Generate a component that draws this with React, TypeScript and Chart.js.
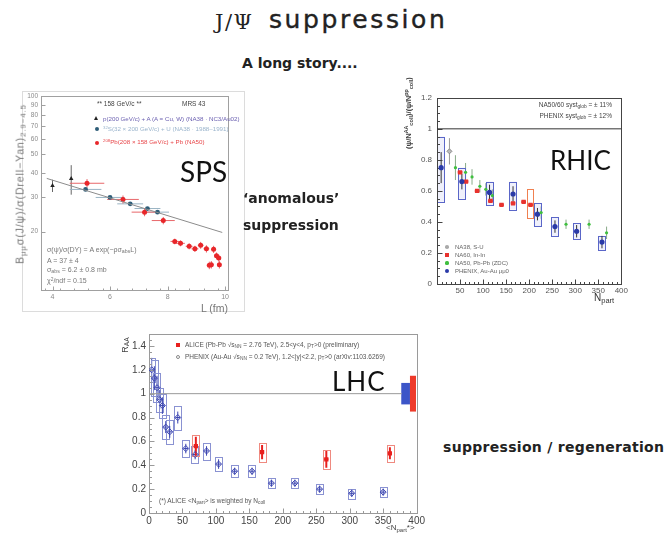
import React, { useEffect, useRef } from "react";
import { Chart, registerables } from "chart.js";

type Pt = { x: number; y: number };
const pts = (xs: number[], ys: number[]): Pt[] => xs.map((x, i) => ({ x, y: ys[i] }));
const range = (a: number, b: number, s: number): number[] => {
  const r: number[] = [];
  for (let i = 0; a + i * s <= b + 1e-9; i++) r.push(+(a + i * s).toFixed(6));
  return r;
};

/* ---------- SPS: J/psi over Drell-Yan vs. nuclear path length L (fm) ---------- */
const spsPA_L = [4.0, 4.65];
const spsPA_R = [34.5, 37.5];
const spsPA_eR = [2.5, 6.5];
const spsSU_L = [5.15, 6.0, 6.7, 7.3, 7.65];
const spsSU_R = [33.0, 30.0, 27.8, 26.3, 25.2];
const spsSU_eL = [0.55, 0.5, 0.45, 0.45, 0.4];
const spsPb_L = [5.2, 6.45, 7.2, 7.85, 8.25, 8.45, 8.75, 8.95, 9.15, 9.35, 9.6, 9.45, 9.52, 9.7, 9.78, 9.8];
const spsPb_R = [35.5, 29.3, 25.2, 22.8, 17.8, 17.4, 16.8, 16.3, 17.0, 16.3, 16.2, 13.4, 13.5, 15.0, 14.6, 13.5];
const spsPb_eL = [0.6, 0.55, 0.45, 0.4, 0.15, 0.15, 0.12, 0.12, 0.1, 0.1, 0.08, 0.08, 0.08, 0.06, 0.06, 0.05];
const spsPb_eR = [1.8, 1.4, 1.2, 1.0, 0.6, 0.6, 0.6, 0.6, 0.7, 0.7, 0.7, 0.6, 0.6, 0.6, 0.6, 0.6];
const spsFit_L = [3.8, 9.9];
const spsFit_R = [37.6, 19.8];
const spsTicksX = [4, 6, 8, 10];
const spsTicksY = [10, 20, 30, 40, 50, 60, 70, 80, 90, 100];

/* ---------- RHIC / SPS: J/psi yield ratio vs. N_part ---------- */
const rhicRef_N = [0, 400];
const rhicRef_R = [1, 1];
const na38_N = [27];
const na38_R = [0.855];
const na38_e = [0.085];
const na50_N = [40, 62, 76, 93, 106, 120, 226, 280, 330, 368];
const na50_R = [0.75, 0.72, 0.69, 0.63, 0.61, 0.57, 0.46, 0.385, 0.385, 0.33];
const na50_e = [0.08, 0.06, 0.05, 0.04, 0.04, 0.04, 0.04, 0.03, 0.03, 0.04];
const na60_N = [50, 63, 87, 116, 140, 165, 188, 203];
const na60_R = [0.72, 0.66, 0.6, 0.535, 0.51, 0.52, 0.53, 0.51];
const na60_eN = [5, 5, 5, 5, 5, 5, 5, 5];
const na60_boxLo = [null, null, null, null, null, null, null, 0.42];
const na60_boxHi = [null, null, null, null, null, null, null, 0.61];
const phxAu_N = [9, 54, 114, 165, 218, 256, 303, 358];
const phxAu_R = [0.75, 0.66, 0.59, 0.58, 0.45, 0.37, 0.34, 0.27];
const phxAu_e = [0.1, 0.05, 0.05, 0.05, 0.04, 0.04, 0.04, 0.04];
const phxAu_lo = [0.53, 0.55, 0.51, 0.48, 0.37, 0.31, 0.29, 0.22];
const phxAu_hi = [0.95, 0.75, 0.66, 0.66, 0.52, 0.43, 0.39, 0.31];

/* ---------- LHC: R_AA vs. <N_part> ---------- */
const lhcRef_N = [0, 378];
const lhcRef_R = [1, 1];
const phx_N = [4, 8, 12, 16, 20, 25, 31, 43, 55, 69, 86, 104, 128, 154, 183, 218, 255, 303, 350];
const phx_R = [1.2, 1.13, 1.05, 0.95, 0.9, 0.72, 0.68, 0.8, 0.54, 0.49, 0.52, 0.41, 0.35, 0.35, 0.25, 0.25, 0.2, 0.165, 0.175];
const phx_stat = [0.1, 0.1, 0.1, 0.08, 0.07, 0.05, 0.05, 0.05, 0.04, 0.04, 0.04, 0.04, 0.03, 0.03, 0.03, 0.03, 0.03, 0.03, 0.03];
const phx_sys = [0.1, 0.15, 0.12, 0.1, 0.1, 0.1, 0.1, 0.1, 0.07, 0.07, 0.07, 0.06, 0.05, 0.05, 0.04, 0.04, 0.04, 0.04, 0.04];
const alice_N = [70, 169, 265, 360];
const alice_R = [0.56, 0.51, 0.45, 0.5];
const alice_stat = [0.08, 0.06, 0.07, 0.05];
const alice_sys = [0.09, 0.08, 0.08, 0.07];
const phxGlob_N = [383.5];
const phxGlob_R = [1];
const phxGlob_sys = [0.09];
const aliceGlob_N = [394.5];
const aliceGlob_R = [1];
const aliceGlob_sys = [0.15];

const F = "'Liberation Sans', Arial, sans-serif";

/* error bars and systematic boxes, drawn beneath the markers */
const errorBars = {
  id: "errorBars",
  beforeDatasetsDraw(chart: any) {
    const { ctx, chartArea: a } = chart;
    const xs = chart.scales.x;
    const ys = chart.scales.y;
    ctx.save();
    ctx.beginPath();
    ctx.rect(a.left, a.top, a.width, a.height);
    ctx.clip();
    chart.data.datasets.forEach((ds: any) => {
      (ds.data as Pt[]).forEach((p, i) => {
        const px = xs.getPixelForValue(p.x);
        const py = ys.getPixelForValue(p.y);
        let lo: number | null = null;
        let hi: number | null = null;
        if (ds.sysY) {
          lo = p.y - ds.sysY[i];
          hi = p.y + ds.sysY[i];
        }
        if (ds.boxLo && ds.boxLo[i] != null) {
          lo = ds.boxLo[i];
          hi = ds.boxHi[i];
        }
        if (lo != null && hi != null) {
          const x0 = xs.getPixelForValue(p.x - ds.boxW);
          const x1 = xs.getPixelForValue(p.x + ds.boxW);
          const y0 = ys.getPixelForValue(hi);
          const y1 = ys.getPixelForValue(lo);
          if (ds.boxFill) {
            ctx.fillStyle = ds.boxFill;
            ctx.fillRect(x0, y0, x1 - x0, y1 - y0);
          }
          if (ds.boxStroke) {
            ctx.strokeStyle = ds.boxStroke;
            ctx.lineWidth = 1;
            ctx.strokeRect(Math.round(x0) + 0.5, Math.round(y0) + 0.5, Math.round(x1 - x0), Math.round(y1 - y0));
          }
        }
        if (ds.errY || ds.errX) {
          ctx.strokeStyle = ds.barColor;
          ctx.lineWidth = ds.barWidth || 1;
          ctx.beginPath();
          if (ds.errY) {
            ctx.moveTo(px, ys.getPixelForValue(p.y - ds.errY[i]));
            ctx.lineTo(px, ys.getPixelForValue(p.y + ds.errY[i]));
          }
          if (ds.errX) {
            ctx.moveTo(xs.getPixelForValue(p.x - ds.errX[i]), py);
            ctx.lineTo(xs.getPixelForValue(p.x + ds.errX[i]), py);
          }
          ctx.stroke();
        }
      });
    });
    ctx.restore();
  },
};

/* ROOT-style frame with inward tick marks */
const frame = {
  id: "frame",
  beforeDatasetsDraw(chart: any, _args: any, o: any) {
    if (!o || !o.color) return;
    const { ctx, chartArea: a } = chart;
    const xs = chart.scales.x;
    const ys = chart.scales.y;
    ctx.save();
    ctx.strokeStyle = o.color;
    ctx.lineWidth = 1;
    const L = Math.round(a.left) + 0.5;
    const R = Math.round(a.right) + 0.5;
    const T = Math.round(a.top) + 0.5;
    const B = Math.round(a.bottom) + 0.5;
    ctx.strokeRect(L, T, R - L, B - T);
    ctx.beginPath();
    const xt = (vals: number[], len: number) =>
      (vals || []).forEach((v) => {
        const px = Math.round(xs.getPixelForValue(v)) + 0.5;
        if (px < L - 0.1 || px > R + 0.1) return;
        ctx.moveTo(px, B);
        ctx.lineTo(px, B - len);
      });
    const yt = (vals: number[], len: number) =>
      (vals || []).forEach((v) => {
        const py = Math.round(ys.getPixelForValue(v)) + 0.5;
        if (py < T - 0.1 || py > B + 0.1) return;
        ctx.moveTo(L, py);
        ctx.lineTo(L + len, py);
      });
    xt(o.xMajor, o.len);
    xt(o.xMinor, o.minorLen);
    yt(o.yMajor, o.len);
    yt(o.yMinor, o.minorLen);
    ctx.stroke();
    ctx.restore();
  },
};

Chart.register(...registerables, errorBars, frame);

const noGrid = { display: false, drawTicks: false, tickLength: 0 };

const baseOptions = (padding: any) => ({
  animation: false,
  responsive: false,
  events: [],
  layout: { padding },
});

function spsConfig(): any {
  return {
    type: "scatter",
    data: {
      datasets: [
        { data: pts(spsFit_L, spsFit_R), showLine: true, borderColor: "#8c8c8c", borderWidth: 1, pointRadius: 0 },
        { data: pts(spsPA_L, spsPA_R), pointStyle: "triangle", pointRadius: 2.6, backgroundColor: "#222", borderColor: "#222", borderWidth: 0, errY: spsPA_eR, barColor: "#666" },
        { data: pts(spsSU_L, spsSU_R), pointStyle: "circle", pointRadius: 2.4, backgroundColor: "#2e5d78", borderWidth: 0, errX: spsSU_eL, barColor: "#9ab4c4" },
        { data: pts(spsPb_L, spsPb_R), pointStyle: "circle", pointRadius: 2.5, backgroundColor: "#e8262a", borderWidth: 0, errX: spsPb_eL, errY: spsPb_eR, barColor: "#e8676a" },
      ],
    },
    options: {
      ...baseOptions({ top: 8, right: 18, left: 0, bottom: 0 }),
      plugins: {
        legend: { display: false },
        tooltip: { enabled: false },
        frame: { color: "#a0a0a0", xMajor: spsTicksX, xMinor: range(3.75, 10, 0.5), yMajor: spsTicksY, yMinor: [], len: 4, minorLen: 2 },
      },
      scales: {
        x: {
          type: "linear", min: 3.6, max: 10.1,
          grid: noGrid, border: { display: false },
          afterBuildTicks: (s: any) => { s.ticks = spsTicksX.map((v) => ({ value: v })); },
          afterFit: (s: any) => { s.height = 24; },
          ticks: { autoSkip: false, maxRotation: 0, padding: 3, color: "#8a8a8a", font: { size: 7, family: F } },
        },
        y: {
          type: "logarithmic", min: 10, max: 100,
          grid: noGrid, border: { display: false },
          afterBuildTicks: (s: any) => { s.ticks = spsTicksY.map((v) => ({ value: v })); },
          afterFit: (s: any) => { s.width = 21; },
          ticks: { autoSkip: false, padding: 3, color: "#8a8a8a", font: { size: 6.5, family: F }, callback: (v: number) => (v === 10 ? "" : String(v)) },
        },
      },
    },
  };
}

function rhicConfig(): any {
  return {
    type: "scatter",
    data: {
      datasets: [
        { data: pts(rhicRef_N, rhicRef_R), showLine: true, borderColor: "#333", borderWidth: 1, pointRadius: 0 },
        { data: pts(na38_N, na38_R), pointStyle: "rectRot", pointRadius: 2.5, backgroundColor: "#bbb", borderColor: "#888", borderWidth: 1, errY: na38_e, barColor: "#999" },
        { data: pts(na50_N, na50_R), pointStyle: "circle", pointRadius: 1.6, backgroundColor: "#3fbf3f", borderWidth: 0, errY: na50_e, barColor: "#8a8", barWidth: 1 },
        { data: pts(phxAu_N, phxAu_R), pointStyle: "circle", pointRadius: 2.6, backgroundColor: "#2a3aa8", borderWidth: 0, errY: phxAu_e, barColor: "#333", boxLo: phxAu_lo, boxHi: phxAu_hi, boxW: 8, boxStroke: "#5a66c8", boxFill: "rgba(120,130,220,0.12)" },
        { data: pts(na60_N, na60_R), pointStyle: "rect", pointRadius: 3, backgroundColor: "#e8322e", borderWidth: 0, errX: na60_eN, barColor: "#e8322e", barWidth: 2.5, boxLo: na60_boxLo, boxHi: na60_boxHi, boxW: 7, boxStroke: "#f08050" },
      ],
    },
    options: {
      ...baseOptions({ top: 9, right: 8, left: 0, bottom: 0 }),
      plugins: {
        legend: { display: false },
        tooltip: { enabled: false },
        frame: { color: "#444", xMajor: range(0, 400, 50), xMinor: range(0, 400, 10), yMajor: range(0, 1.2, 0.2), yMinor: range(0, 1.2, 0.05), len: 5, minorLen: 2.5 },
      },
      scales: {
        x: {
          type: "linear", min: 0, max: 400,
          grid: noGrid, border: { display: false },
          afterBuildTicks: (s: any) => { s.ticks = range(0, 400, 50).map((v) => ({ value: v })); },
          afterFit: (s: any) => { s.height = 29; },
          ticks: { autoSkip: false, maxRotation: 0, padding: 2, color: "#555", font: { size: 8, family: F }, callback: (v: number) => (v === 0 ? "" : String(v)) },
        },
        y: {
          type: "linear", min: 0, max: 1.2,
          grid: noGrid, border: { display: false },
          afterBuildTicks: (s: any) => { s.ticks = range(0, 1.2, 0.2).map((v) => ({ value: v })); },
          afterFit: (s: any) => { s.width = 39; },
          ticks: { autoSkip: false, padding: 5, color: "#555", font: { size: 8, family: F }, callback: (v: number) => String(Math.round(v * 10) / 10) },
        },
      },
    },
  };
}

function lhcConfig(): any {
  return {
    type: "scatter",
    data: {
      datasets: [
        { data: pts(lhcRef_N, lhcRef_R), showLine: true, borderColor: "#9a9a9a", borderWidth: 1, pointRadius: 0 },
        { data: pts(phxGlob_N, phxGlob_R), pointRadius: 0, sysY: phxGlob_sys, boxW: 6.5, boxFill: "#3c55c8" },
        { data: pts(aliceGlob_N, aliceGlob_R), pointRadius: 0, sysY: aliceGlob_sys, boxW: 4.5, boxFill: "#ee3a2a" },
        { data: pts(phx_N, phx_R), pointStyle: "rectRot", pointRadius: 3, backgroundColor: "rgba(255,255,255,0)", borderColor: "#3a44b0", borderWidth: 1, errY: phx_stat, errX: phx_N.map(() => 3.5), barColor: "#3a44b0", sysY: phx_sys, boxW: 5.5, boxStroke: "#8a92d2" },
        { data: pts(alice_N, alice_R), pointStyle: "rect", pointRadius: 3, backgroundColor: "#e8201e", borderWidth: 0, errY: alice_stat, errX: alice_N.map(() => 3), barColor: "#e8201e", barWidth: 2, sysY: alice_sys, boxW: 5, boxStroke: "#ef8a80" },
      ],
    },
    options: {
      ...baseOptions({ top: 12, right: 9, left: 0, bottom: 0 }),
      plugins: {
        legend: { display: false },
        tooltip: { enabled: false },
        frame: { color: "#9a9a9a", xMajor: range(0, 400, 50), xMinor: range(0, 400, 10), yMajor: range(0, 1.4, 0.2), yMinor: range(0, 1.5, 0.05), len: 5, minorLen: 2.5 },
      },
      scales: {
        x: {
          type: "linear", min: 0, max: 400,
          grid: noGrid, border: { display: false },
          afterBuildTicks: (s: any) => { s.ticks = range(0, 400, 50).map((v) => ({ value: v })); },
          afterFit: (s: any) => { s.height = 20; },
          ticks: { autoSkip: false, maxRotation: 0, padding: 2, color: "#444", font: { size: 10, family: F } },
        },
        y: {
          type: "linear", min: 0, max: 1.5,
          grid: noGrid, border: { display: false },
          afterBuildTicks: (s: any) => { s.ticks = range(0, 1.4, 0.2).map((v) => ({ value: v })); },
          afterFit: (s: any) => { s.width = 37; },
          ticks: { autoSkip: false, padding: 3, color: "#444", font: { size: 10, family: F }, callback: (v: number) => String(Math.round(v * 10) / 10) },
        },
      },
    },
  };
}

function Plot({ make, left, top, width, height }: { make: () => any; left: number; top: number; width: number; height: number }) {
  const ref = useRef<HTMLCanvasElement>(null);
  useEffect(() => {
    const c = new Chart(ref.current as HTMLCanvasElement, make());
    return () => c.destroy();
  }, []);
  return <canvas ref={ref} width={width} height={height} style={{ position: "absolute", left, top, width, height }} />;
}

const T = ({ x, y, size, color = "#333", family = F, weight = 400, children, style }: any) => (
  <div style={{ position: "absolute", left: x, top: y, fontSize: size, lineHeight: 1, color, fontFamily: family, fontWeight: weight, whiteSpace: "nowrap", ...style }}>
    {children}
  </div>
);

const V = ({ cx, cy, size, color = "#555", weight = 400, children, style }: any) => (
  <div style={{ position: "absolute", left: cx, top: cy, transform: "translate(-50%,-50%) rotate(-90deg)", fontSize: size, lineHeight: 1, color, fontFamily: F, fontWeight: weight, whiteSpace: "nowrap", ...style }}>
    {children}
  </div>
);

const Dot = ({ cx, cy, r, color, square = false, hollow = false }: any) => (
  <div style={{ position: "absolute", left: cx - r, top: cy - r, width: 2 * r, height: 2 * r, borderRadius: square ? 0 : "50%", background: hollow ? "transparent" : color, border: hollow ? `1px solid ${color}` : "none", boxSizing: "border-box" }} />
);

const SANS = "'DejaVu Sans', sans-serif";
const sub = { fontSize: "75%", verticalAlign: "-0.25em" };
const sup = { fontSize: "70%", verticalAlign: "0.45em" };

export default function App() {
  return (
    <div style={{ position: "absolute", left: 0, top: 0, width: 668, height: 533, overflow: "hidden", background: "#fff" }}>
      {/* heading */}
      <T x={215} y={12} size={21} family="'DejaVu Serif', serif" color="#222" style={{ letterSpacing: 1.5 }}>J/Ψ</T>
      <T x={269} y={7} size={25} family={SANS} color="#222" style={{ letterSpacing: 2.6, WebkitTextStroke: "0.4px #222" }}>suppression</T>
      <T x={242} y={56} size={14} family={SANS} weight={700} color="#222">A long story....</T>

      {/* SPS panel */}
      <div style={{ position: "absolute", left: 22, top: 91, width: 223, height: 221, border: "1px solid #dcdcdc", boxSizing: "border-box" }} />
      <Plot make={spsConfig} left={20} top={88} width={226} height={226} />
      <T x={97} y={101} size={6.5} color="#444">** 158 GeV/c **</T>
      <T x={182} y={101} size={6.5} color="#444">MRS 43</T>
      <div style={{ position: "absolute", left: 93.5, top: 115.5, width: 0, height: 0, borderLeft: "2.5px solid transparent", borderRight: "2.5px solid transparent", borderBottom: "4px solid #222" }} />
      <T x={103} y={116} size={6.2} color="#6a5fb0">p(200 GeV/c) + A (A = Cu, W) (NA38 · NC3/Au02)</T>
      <Dot cx={97} cy={129} r={2.2} color="#2e5d78" />
      <T x={103} y={125.5} size={6.2} color="#9ab4cc"><span style={sup}>32</span>S(32 × 200 GeV/c) + U (NA38 · 1988–1991)</T>
      <Dot cx={97} cy={143} r={2.3} color="#e8262a" />
      <T x={103} y={139} size={6.2} color="#e8474a"><span style={sup}>208</span>Pb(208 × 158 GeV/c) + Pb (NA50)</T>
      <T x={47} y={246} size={7} color="#777">σ(ψ)/σ(DY) = A exp(−ρσ<span style={sub}>abs</span>L)</T>
      <T x={47} y={256.5} size={7} color="#777">A = 37 ± 4</T>
      <T x={47} y={266} size={7} color="#777">σ<span style={sub}>abs</span> = 6.2 ± 0.8 mb</T>
      <T x={47} y={276.5} size={7} color="#777">χ<span style={sup}>2</span>/ndf = 0.15</T>
      <V cx={21} cy={184} size={10.5} color="#777" style={{ letterSpacing: 0.9 }}>B<span style={sub}>μμ</span>σ(J/ψ)/σ(Drell−Yan)<span style={sub}>2.9−4.5</span></V>
      <T x={201} y={303} size={10.5} color="#777">L (fm)</T>
      <T x={180} y={157} size={28} family="Lato, sans-serif" color="#111">SPS</T>

      <T x={243} y={191} size={14} family={SANS} weight={700} color="#222">‘anomalous’</T>
      <T x={243} y={218} size={14} family={SANS} weight={700} color="#222">suppression</T>

      {/* RHIC panel */}
      <Plot make={rhicConfig} left={398} top={88} width={232} height={225} />
      <V cx={409} cy={113} size={7.5} weight={700} color="#444">(ψ/N<sup style={{ fontSize: "70%" }}>AA</sup><span style={sub}>coll</span>)/(ψ/N<sup style={{ fontSize: "70%" }}>pp</sup><span style={sub}>coll</span>)</V>
      <div style={{ position: "absolute", right: 56, top: 101.5, fontSize: 6.5, lineHeight: 1, color: "#444", fontFamily: F, whiteSpace: "nowrap" }}>NA50/60 syst<span style={sub}>glob</span> = ± 11%</div>
      <div style={{ position: "absolute", right: 56, top: 113, fontSize: 6.5, lineHeight: 1, color: "#444", fontFamily: F, whiteSpace: "nowrap" }}>PHENIX syst<span style={sub}>glob</span> = ± 12%</div>
      <Dot cx={447} cy={247} r={1.8} color="#aaa" />
      <T x={455} y={243.5} size={6} color="#666">NA38, S-U</T>
      <Dot cx={447} cy={255} r={2} color="#e8322e" square />
      <T x={455} y={251.5} size={6} color="#666">NA60, In-In</T>
      <Dot cx={447} cy={263} r={1.6} color="#3fbf3f" />
      <T x={455} y={259.5} size={6} color="#666">NA50, Pb-Pb (ZDC)</T>
      <Dot cx={447} cy={271} r={2} color="#2a3aa8" />
      <T x={455} y={267.5} size={6} color="#666">PHENIX, Au-Au μμ0</T>
      <T x={594} y={293} size={10} color="#333">N<span style={sub}>part</span></T>
      <T x={550} y={147} size={26} family="Lato, sans-serif" color="#111">RHIC</T>

      {/* LHC panel */}
      <Plot make={lhcConfig} left={112} top={322} width={315} height={211} />
      <V cx={126} cy={345} size={9} color="#444">R<span style={sub}>AA</span></V>
      <Dot cx={178} cy={345} r={2} color="#e8201e" square />
      <T x={185} y={341.5} size={6.5} color="#555">ALICE (Pb-Pb √s<span style={sub}>NN</span> = 2.76 TeV), 2.5&lt;y&lt;4, p<span style={sub}>T</span>&gt;0 (preliminary)</T>
      <Dot cx={178} cy={357} r={2} color="#888" hollow />
      <T x={185} y={353.5} size={6.5} color="#555">PHENIX (Au-Au √s<span style={sub}>NN</span> = 0.2 TeV), 1.2&lt;|y|&lt;2.2, p<span style={sub}>T</span>&gt;0 (arXiv:1103.6269)</T>
      <T x={159} y={498} size={6.5} color="#555">(*) ALICE &lt;N<span style={sub}>part</span>&gt; is weighted by N<span style={sub}>coll</span></T>
      <T x={386} y={524} size={8} color="#444">&lt;N<span style={sub}>part</span>*&gt;</T>
      <T x={332} y={368} size={26} family="Lato, sans-serif" color="#111" style={{ letterSpacing: 1 }}>LHC</T>

      <T x={443} y={440} size={14} family={SANS} weight={700} color="#222" style={{ letterSpacing: 0.3 }}>suppression / regeneration</T>
    </div>
  );
}
